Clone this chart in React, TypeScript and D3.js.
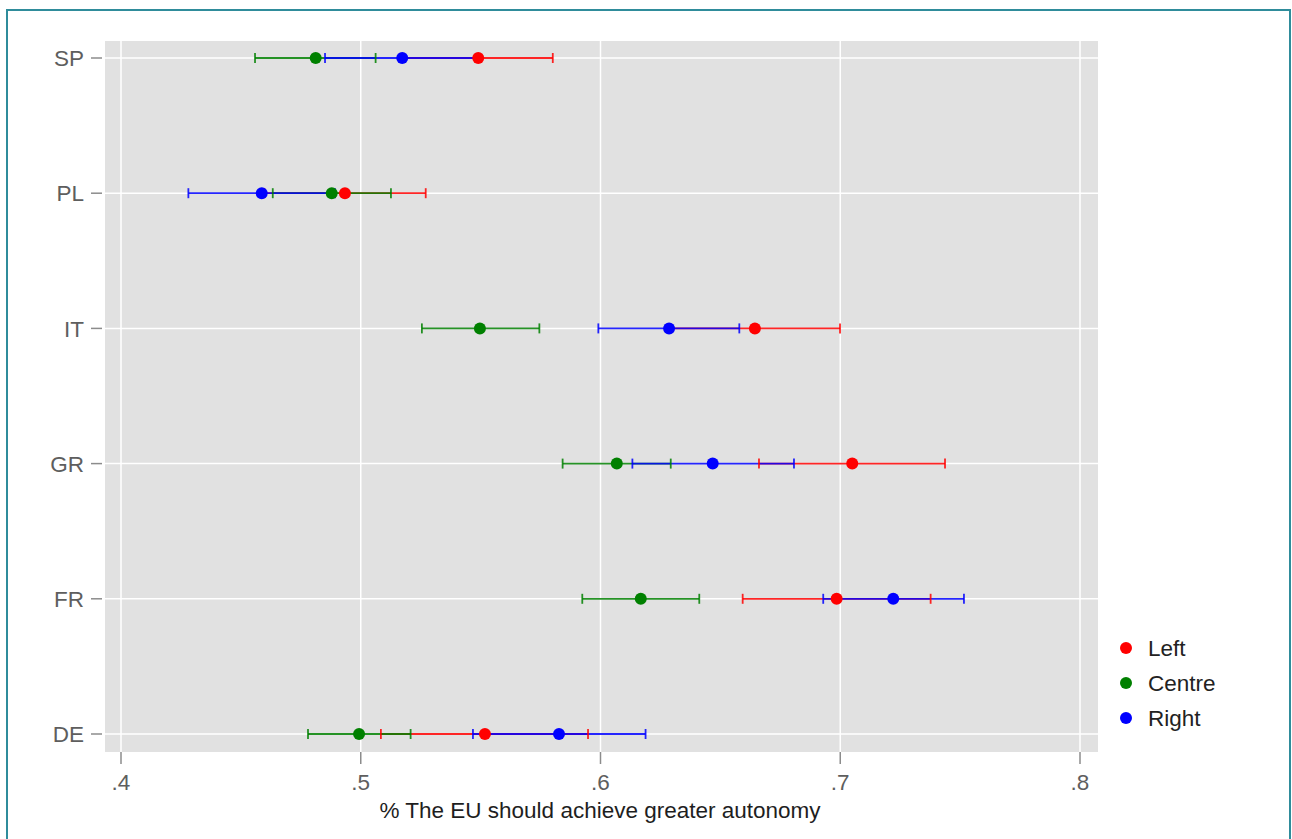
import React, { useEffect, useRef } from 'react';
import * as d3 from 'd3';

const countries = ['SP', 'PL', 'IT', 'GR', 'FR', 'DE'];
const groups = ['Left', 'Centre', 'Right'];
const groupColors = ['#ff0000', '#008000', '#0000ff'];
const xTicks = [0.4, 0.5, 0.6, 0.7, 0.8];
const xTickLabels = ['.4', '.5', '.6', '.7', '.8'];

// [lower, mean, upper] per country, same order as countries
const leftValues = [
  [0.5176, 0.549, 0.5801],
  [0.4598, 0.4934, 0.5271],
  [0.629, 0.6644, 0.6999],
  [0.6661, 0.705, 0.7437],
  [0.6593, 0.6985, 0.7377],
  [0.5084, 0.5518, 0.5948],
];
const centreValues = [
  [0.4559, 0.4812, 0.5062],
  [0.4633, 0.4879, 0.5126],
  [0.5255, 0.5497, 0.5745],
  [0.5842, 0.6068, 0.6293],
  [0.5924, 0.6168, 0.6412],
  [0.478, 0.4993, 0.5208],
];
const rightValues = [
  [0.4851, 0.5173, 0.5493],
  [0.4281, 0.4587, 0.4893],
  [0.5991, 0.6286, 0.6579],
  [0.6133, 0.6468, 0.6807],
  [0.6929, 0.7221, 0.7516],
  [0.5468, 0.5827, 0.6188],
];

const App = () => {
  const svgRef = useRef<SVGSVGElement>(null);

  useEffect(() => {
    const width = 1292;
    const height = 839;
    const svg = d3.select(svgRef.current);
    svg.selectAll('*').remove();
    svg.attr('width', width).attr('height', height);

    const font = '"Liberation Sans", Arial, sans-serif';
    const fontSize = '22.5px';
    const plot = { left: 105, top: 41, right: 1098, bottom: 752 };

    const x = d3.scaleLinear().domain([0.4, 0.8]).range([121, 1080]);
    const y = d3.scalePoint<string>().domain(countries).range([58, 734]);

    // frame
    svg.append('rect')
      .attr('x', 7).attr('y', 10)
      .attr('width', 1283).attr('height', 840)
      .attr('fill', 'white')
      .attr('stroke', '#2f8c9b')
      .attr('stroke-width', 2);

    // plot background
    svg.append('rect')
      .attr('x', plot.left).attr('y', plot.top)
      .attr('width', plot.right - plot.left)
      .attr('height', plot.bottom - plot.top)
      .attr('fill', '#e1e1e1');

    // grid
    svg.append('g').selectAll('line')
      .data(xTicks).enter().append('line')
      .attr('x1', d => x(d)).attr('x2', d => x(d))
      .attr('y1', plot.top).attr('y2', plot.bottom)
      .attr('stroke', '#fff').attr('stroke-width', 1.5);
    svg.append('g').selectAll('line')
      .data(countries).enter().append('line')
      .attr('x1', plot.left).attr('x2', plot.right)
      .attr('y1', d => y(d)!).attr('y2', d => y(d)!)
      .attr('stroke', '#fff').attr('stroke-width', 1.5);

    // y axis
    const yAxis = svg.append('g');
    yAxis.selectAll('line')
      .data(countries).enter().append('line')
      .attr('x1', 91).attr('x2', 102)
      .attr('y1', d => y(d)!).attr('y2', d => y(d)!)
      .attr('stroke', '#8c8c8c').attr('stroke-width', 1.5);
    yAxis.selectAll('text')
      .data(countries).enter().append('text')
      .attr('x', 84).attr('y', d => y(d)!)
      .attr('dy', '0.36em')
      .attr('text-anchor', 'end')
      .style('font-family', font).style('font-size', fontSize)
      .style('fill', '#5e5e5e')
      .text(d => d);

    // x axis
    const xAxis = svg.append('g');
    xAxis.selectAll('line')
      .data(xTicks).enter().append('line')
      .attr('x1', d => x(d)).attr('x2', d => x(d))
      .attr('y1', 752).attr('y2', 764)
      .attr('stroke', '#8c8c8c').attr('stroke-width', 1.5);
    xAxis.selectAll('text')
      .data(xTicks).enter().append('text')
      .attr('x', d => x(d)).attr('y', 790)
      .attr('text-anchor', 'middle')
      .style('font-family', font).style('font-size', fontSize)
      .style('fill', '#5e5e5e')
      .text((d, i) => xTickLabels[i]);
    svg.append('text')
      .attr('x', 600).attr('y', 818)
      .attr('text-anchor', 'middle')
      .style('font-family', font).style('font-size', fontSize)
      .style('fill', '#1e1e1e')
      .text('% The EU should achieve greater autonomy');

    const series = [leftValues, centreValues, rightValues];

    // CI lines
    series.forEach((vals, gi) => {
      svg.append('g').selectAll('line')
        .data(vals).enter().append('line')
        .attr('x1', d => x(d[0])).attr('x2', d => x(d[2]))
        .attr('y1', (d, i) => y(countries[i])!).attr('y2', (d, i) => y(countries[i])!)
        .attr('stroke', groupColors[gi]).attr('stroke-width', 1.8)
        .attr('stroke-opacity', 0.85);
    });

    // caps
    series.forEach((vals, gi) => {
      const g = svg.append('g');
      vals.forEach((d, i) => {
        [d[0], d[2]].forEach(v => {
          g.append('line')
            .attr('x1', x(v)).attr('x2', x(v))
            .attr('y1', y(countries[i])! - 5).attr('y2', y(countries[i])! + 5)
            .attr('stroke', groupColors[gi]).attr('stroke-width', 1.8)
            .attr('stroke-opacity', 0.85);
        });
      });
    });

    // points
    series.forEach((vals, gi) => {
      svg.append('g').selectAll('circle')
        .data(vals).enter().append('circle')
        .attr('cx', d => x(d[1]))
        .attr('cy', (d, i) => y(countries[i])!)
        .attr('r', 6)
        .attr('fill', groupColors[gi]);
    });

    // legend
    const legend = svg.append('g');
    groups.forEach((name, i) => {
      const ly = 648 + i * 35;
      legend.append('circle')
        .attr('cx', 1126).attr('cy', ly).attr('r', 6)
        .attr('fill', groupColors[i]);
      legend.append('text')
        .attr('x', 1148).attr('y', ly)
        .attr('dy', '0.36em')
        .style('font-family', font).style('font-size', fontSize)
        .style('fill', '#222')
        .text(name);
    });
  }, []);

  return (
    <svg
      ref={svgRef}
      style={{ position: 'absolute', left: 0, top: 0, display: 'block' }}
    />
  );
};

export default App;
